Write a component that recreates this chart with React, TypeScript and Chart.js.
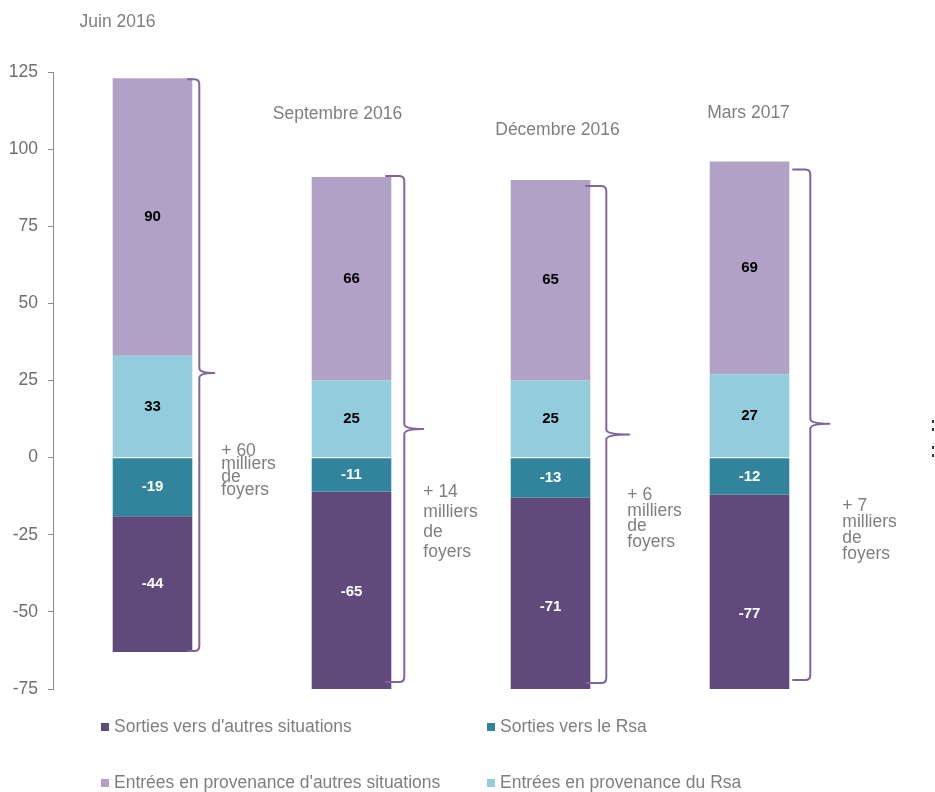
import React, { useEffect, useRef } from "react";
import { Chart, registerables } from "chart.js";

Chart.register(...registerables);

// ---- data ----
const categories = ["Juin 2016", "Septembre 2016", "Décembre 2016", "Mars 2017"];
const sortiesAutres = [-44, -65, -71, -77];
const sortiesRsa = [-19, -11, -13, -12];
const entreesAutres = [90, 66, 65, 69];
const entreesRsa = [33, 25, 25, 27];
const netChange = [60, 14, 6, 7];
const yTicks = [-75, -50, -25, 0, 25, 50, 75, 100, 125];

const legendLabels = [
  "Sorties vers d'autres situations",
  "Sorties vers le Rsa",
  "Entrées en provenance d'autres situations",
  "Entrées en provenance du Rsa",
];

// ---- styles / layout ----
const FONT = "'Liberation Sans', Arial, sans-serif";
const GRAY = "#7f7f7f";
const C_DARK = "#604a7b";
const C_TEAL = "#31849b";
const C_LPURPLE = "#b2a1c7";
const C_LBLUE = "#93cddd";
const BRACE = "#8064a2";

const braceLayout = [
  { dx: 7, inset: 5, tip: 15, topDy: 1, bottomDy: -1, tipDy: 8, textDx: 22, textDy: 83, lineH: 13 },
  { dx: 13, inset: 6, tip: 19, topDy: -1, bottomDy: -7, tipDy: 0, textDx: 19, textDy: 68, lineH: 20 },
  { dx: 16, inset: 5, tip: 23, topDy: 6, bottomDy: -6, tipDy: 0, textDx: 21, textDy: 66, lineH: 15.5 },
  { dx: 21, inset: -3, tip: 19, topDy: 8, bottomDy: -9, tipDy: -1, textDx: 32, textDy: 87, lineH: 16 },
];
const titleLayout = [
  { dx: -35, dy: -56 },
  { dx: -14, dy: -63 },
  { dx: 7, dy: -50 },
  { dx: -1, dy: -48 },
];
const legendLayout = [
  { x: 101, y: 727 },
  { x: 487, y: 727 },
  { x: 101, y: 783 },
  { x: 487, y: 783 },
];

const annotPlugin = {
  id: "annot",
  afterDatasetsDraw(chart: any) {
    const ctx: CanvasRenderingContext2D = chart.ctx;
    const area = chart.chartArea;
    const datasets = chart.data.datasets;
    const metas = datasets.map((_: any, i: number) => chart.getDatasetMeta(i));
    ctx.save();

    // value labels
    metas.forEach((meta: any, di: number) => {
      const ds = datasets[di];
      meta.data.forEach((el: any, i: number) => {
        const p = el.getProps(["x", "y", "base"], true);
        const cy = (p.y + p.base) / 2;
        ctx.fillStyle = ds.labelColor;
        ctx.font = `bold 15px ${FONT}`;
        ctx.textAlign = "center";
        ctx.textBaseline = "middle";
        ctx.fillText(String(ds.data[i]), p.x, cy);
      });
    });

    // braces, net labels, titles
    chart.data.labels.forEach((cat: string, i: number) => {
      let top = Infinity;
      let bottom = -Infinity;
      let right = 0;
      let cx = 0;
      metas.forEach((meta: any) => {
        const p = meta.data[i].getProps(["x", "y", "base", "width"], true);
        top = Math.min(top, p.y, p.base);
        bottom = Math.max(bottom, p.y, p.base);
        right = p.x + p.width / 2;
        cx = p.x;
      });
      const barTop = top;
      bottom = Math.min(bottom, area.bottom);
      const L = braceLayout[i];
      const bt = top + L.topDy;
      const bb = bottom + L.bottomDy;
      const mid = (bt + bb) / 2 + L.tipDy;
      const vx = right + L.dx;
      const r = 5;
      ctx.strokeStyle = BRACE;
      ctx.lineWidth = 2;
      ctx.lineJoin = "round";
      ctx.beginPath();
      ctx.moveTo(right - L.inset, bt);
      ctx.lineTo(vx - r, bt);
      ctx.quadraticCurveTo(vx, bt, vx, bt + r);
      ctx.lineTo(vx, mid - 5);
      ctx.quadraticCurveTo(vx, mid, vx + L.tip, mid);
      ctx.quadraticCurveTo(vx, mid, vx, mid + 5);
      ctx.lineTo(vx, bb - r);
      ctx.quadraticCurveTo(vx, bb, vx - r, bb);
      ctx.lineTo(right - L.inset, bb);
      ctx.stroke();

      // net text
      ctx.fillStyle = GRAY;
      ctx.font = `17.5px ${FONT}`;
      ctx.textAlign = "left";
      ctx.textBaseline = "alphabetic";
      const lines = [`+ ${netChange[i]}`, "milliers", "de", "foyers"];
      lines.forEach((t, k) => {
        ctx.fillText(t, vx + L.textDx, mid + L.textDy + k * L.lineH);
      });

      // title
      const T = titleLayout[i];
      ctx.textAlign = "center";
      ctx.textBaseline = "middle";
      ctx.fillText(cat, cx + T.dx, barTop + T.dy);
    });

    // legend
    const order = [1, 0, 3, 2];
    order.forEach((di, k) => {
      const pos = legendLayout[k];
      ctx.fillStyle = datasets[di].backgroundColor;
      ctx.fillRect(pos.x, pos.y - 4, 8, 8);
      ctx.fillStyle = GRAY;
      ctx.font = `17.5px ${FONT}`;
      ctx.textAlign = "left";
      ctx.textBaseline = "middle";
      ctx.fillText(datasets[di].label, pos.x + 13, pos.y);
    });

    // tiny marks at right edge
    ctx.fillStyle = "#333";
    [420, 428, 446, 454].forEach((yy) => ctx.fillRect(932, yy, 2, 3));

    ctx.restore();
  },
};

export default function App() {
  const ref = useRef<HTMLCanvasElement | null>(null);
  useEffect(() => {
    if (!ref.current) return;
    const chart = new Chart(ref.current, {
      type: "bar",
      data: {
        labels: categories,
        datasets: [
          { label: legendLabels[1], data: sortiesRsa, backgroundColor: C_TEAL, labelColor: "#ffffff" } as any,
          { label: legendLabels[0], data: sortiesAutres, backgroundColor: C_DARK, labelColor: "#ffffff" } as any,
          { label: legendLabels[3], data: entreesRsa, backgroundColor: C_LBLUE, labelColor: "#000000" } as any,
          { label: legendLabels[2], data: entreesAutres, backgroundColor: C_LPURPLE, labelColor: "#000000" } as any,
        ],
      },
      options: {
        responsive: false,
        animation: false,
        devicePixelRatio: 1,
        layout: { padding: { top: 72, bottom: 103, left: 0, right: 86 } },
        datasets: { bar: { barPercentage: 0.4, categoryPercentage: 1 } },
        plugins: { legend: { display: false }, tooltip: { enabled: false } },
        scales: {
          x: { stacked: true, display: false },
          y: {
            stacked: true,
            min: yTicks[0],
            max: yTicks[yTicks.length - 1],
            afterFit: (s: any) => {
              s.width = 53;
            },
            afterBuildTicks: (s: any) => {
              s.ticks = yTicks.map((v) => ({ value: v }));
            },
            grid: { display: true, drawOnChartArea: false, drawTicks: true, tickLength: 5, color: "#8c8c8c" },
            border: { display: true, color: "#8c8c8c", width: 1 },
            ticks: { color: "#6f6f6f", font: { family: FONT, size: 17.5 }, padding: 10 },
          },
        },
      },
      plugins: [annotPlugin],
    });
    return () => chart.destroy();
  }, []);
  return (
    <div style={{ position: "absolute", left: 0, top: 0, width: 935, height: 792 }}>
      <canvas ref={ref} width={935} height={792} style={{ width: 935, height: 792, display: "block" }} />
    </div>
  );
}
